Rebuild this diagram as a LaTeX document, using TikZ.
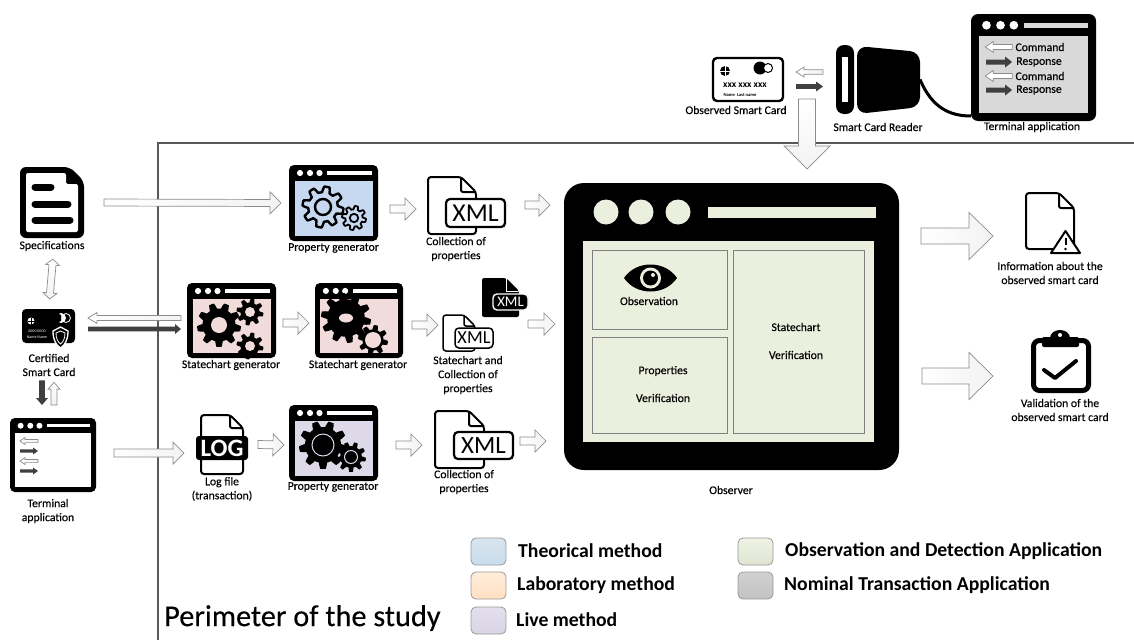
\documentclass[tikz,border=0pt]{standalone}
\usepackage{fontspec}
\setmainfont{Carlito}
\newfontfamily\lblfont[FakeBold=0.25]{Carlito}
\usetikzlibrary{calc}
\definecolor{linegrey}{HTML}{595959}
\definecolor{darkarr}{HTML}{404040}
\definecolor{obsgreen}{HTML}{EBF0DE}
\definecolor{panelline}{HTML}{7F7F7F}
\definecolor{bluefill}{HTML}{C6D9F0}
\definecolor{pinkfill}{HTML}{F2DCDB}
\definecolor{lilacfill}{HTML}{DDD9E8}
\tikzset{
  lbl/.style={font=\lblfont\fontsize{11.7}{14}\selectfont,inner sep=0pt,align=center,text=black},
  legtxt/.style={font=\bfseries\fontsize{19.7}{22}\selectfont,inner sep=0pt,anchor=west},
  iconbox/.style={inner sep=0pt,outer sep=0pt},
  whitearrow/.style={draw=black!45,line width=0.7pt,left color=white,right color=black!5},
  vwhitearrow/.style={draw=black!45,line width=0.7pt,top color=white,bottom color=black!5},
  darkarrow/.style={fill=darkarr,draw=none},
  perimeter/.style={draw=linegrey,line width=2.2pt},
  legbox/.style={draw=black!40,line width=0.8pt,rounded corners=5pt,minimum width=35pt,minimum height=27pt,inner sep=0pt},
  docline/.style={draw=black,line join=round},
}
\newcommand\iconnode[5]{\node[iconbox,minimum width={(#4-#2)*1pt},minimum height={(#5-#3)*1pt}] (#1) at ({(#2+#4)/2},{(#3+#5)/2}) {};}
% block arrow: style, from, to, shaft half width, head half width, head length
\newcommand\barrow[6]{%
  \coordinate (ba) at (#2); \coordinate (bb) at (#3);
  \coordinate (bc) at ($(bb)!#6pt!(ba)$);
  \path[#1] ($(ba)!#4pt!90:(bb)$) -- ($(bc)!#4pt!90:(bb)$) -- ($(bc)!#5pt!90:(bb)$) -- (bb)
    -- ($(bc)!#5pt!-90:(bb)$) -- ($(bc)!#4pt!-90:(bb)$) -- ($(ba)!#4pt!-90:(bb)$) -- cycle;}
% double-headed block arrow
\newcommand\dbarrow[6]{%
  \coordinate (ba) at (#2); \coordinate (bb) at (#3);
  \coordinate (bc) at ($(bb)!#6pt!(ba)$); \coordinate (bd) at ($(ba)!#6pt!(bb)$);
  \path[#1] (ba) -- ($(bd)!#5pt!90:(bb)$) -- ($(bd)!#4pt!90:(bb)$) -- ($(bc)!#4pt!90:(bb)$) -- ($(bc)!#5pt!90:(bb)$) -- (bb)
    -- ($(bc)!#5pt!-90:(bb)$) -- ($(bc)!#4pt!-90:(bb)$) -- ($(bd)!#4pt!-90:(bb)$) -- ($(bd)!#5pt!-90:(bb)$) -- cycle;}
% window icon: name,x1,y1,x2,y2,fill,bar colour
\newcommand\winicon[7]{%
  \pgfmathsetmacro\ws{(#4-#2)/89}
  \fill[black,rounded corners={5*\ws pt}] (#2,#3) rectangle (#4,#5);
  \fill[#6] ({#2+5.5*\ws},{#3+16*\ws}) rectangle ({#4-5.5*\ws},{#5-5.5*\ws});
  \fill[white] ({#2+11*\ws},{#3+8*\ws}) circle ({3.1*\ws});
  \fill[white] ({#2+21*\ws},{#3+8*\ws}) circle ({3.1*\ws});
  \fill[white] ({#2+30.5*\ws},{#3+8*\ws}) circle ({3.1*\ws});
  \fill[#7] ({#2+38*\ws},{#3+6.2*\ws}) rectangle ({#4-6*\ws},{#3+9.8*\ws});
  \iconnode{#1}{#2}{#3}{#4}{#5}}
% gear: x,y,R,teeth,depth fraction,path options
\newcommand\gear[6]{%
  \path[#6,line join=round,shift={(#1,#2)}] plot[domain=0:360,samples={#4*12+1}]
   (\x:{#3*(1-#5/2+#5/2*max(-1,min(1,2.2*sin(#4*\x))))}) -- cycle;}
% document outline: x1,y1,x2,y2,fold,line width,fill
\newcommand\docpath[7]{%
  \draw[docline,line width=#6pt,fill=#7,rounded corners=3pt] (#1,#2) -- ({#3-#5},#2) -- (#3,{#2+#5}) -- (#3,#4) -- (#1,#4) -- cycle;
  \draw[docline,line width=#6pt,rounded corners=2pt] ({#3-#5},#2) -- ({#3-#5},{#2+#5}) -- (#3,{#2+#5});}
% XML tag
\newcommand\xmltag[7]{%
  \pgfmathsetmacro\xf{(#4-#2)*0.92}
  \node[draw=#6,fill=#7,line width=#5pt,rounded corners=4pt,inner sep=0pt,text=#6,
    minimum width={(#3-#1)*1pt},minimum height={(#4-#2)*1pt},
    font=\fontsize{\xf}{20}\selectfont] at ({(#1+#3)/2},{(#2+#4)/2}) {XML};}
\begin{document}
\begin{tikzpicture}[x=1pt,y=-1pt]
\useasboundingbox (0,0) rectangle (1134,640);
\fill[white] (0,0) rectangle (1134,640);

% perimeter
\coordinate (perimTR) at (1134,143);
\coordinate (perimTL) at (158,143);
\coordinate (perimBL) at (158,640);
\draw[perimeter] (perimTR) -- (perimTL) -- (perimBL);
\node[inner sep=0pt,anchor=west,font=\lblfont\fontsize{30.3}{32}\selectfont] (perimtext) at (164,618) {Perimeter of the study};

% ---------- Specifications
\iconnode{spec}{20}{167}{84}{238}
\fill[black,rounded corners=6pt] (20,167) -- (70,167) -- (84,181) -- (84,238) -- (20,238) -- cycle;
\fill[white,rounded corners=2pt] (26,173) -- (66,173) -- (66,184) -- (78,184) -- (78,232) -- (26,232) -- cycle;
\fill[black,rounded corners=1pt] (68,170) -- (82,183) -- (68,183) -- cycle;
\draw[black,line width=7pt,line cap=round] (35,187) -- (51,187) (35,204) -- (68,204) (35,220) -- (70,220);
\node[lbl] (speclbl) at (52,246) {Specifications};

% ---------- Certified smart card
\iconnode{cert}{22}{309}{75}{343}
\fill[black,rounded corners=4pt] (22,309) rectangle (75,343);
\fill[white] (31,321) circle (3.5);
\draw[black,line width=0.6pt] (31,317.5) -- (31,324.5) (27.5,321) -- (34.5,321);
\fill[white] (61,318) circle (5);
\fill[black] (57.5,318) circle (4.5);
\draw[white,line width=0.8pt] (66,318) circle (4.5);
\node[text=white,inner sep=0pt,font=\fontsize{4}{4.5}\selectfont,align=center] (certnum) at (37,334) {0000 0000\\[1pt]Name Name};
\draw[white,line width=1.3pt,fill=black] (60.5,327) -- (68,331) .. controls (68,340) and (65,345) .. (60.5,348) .. controls (56,345) and (53,340) .. (53,331) -- cycle;
\draw[white,line width=0.8pt] (60.5,331) -- (65,333) .. controls (65,339) and (63,342) .. (60.5,344) .. controls (58,342) and (56,339) .. (56,333) -- cycle;
\node[lbl] (certlbl) at (49,365) {Certified\\Smart Card};

% ---------- Left terminal
\winicon{lterm}{10}{418}{96}{492}{white}{white}
\node[lbl] (ltermlbl) at (48,511) {Terminal\\application};
\barrow{whitearrow}{$(lterm.north west)+(28,23)$}{$(lterm.north west)+(10,23)$}{1.6}{3.5}{5}
\barrow{darkarrow}{$(lterm.north west)+(10,33)$}{$(lterm.north west)+(28,33)$}{1.6}{3.5}{5}
\barrow{whitearrow}{$(lterm.north west)+(28,43)$}{$(lterm.north west)+(10,43)$}{1.6}{3.5}{5}
\barrow{darkarrow}{$(lterm.north west)+(10,53)$}{$(lterm.north west)+(28,53)$}{1.6}{3.5}{5}

% ---------- Property generator (theory)
\winicon{propT}{289}{165}{378}{241}{bluefill}{white}
\gear{323}{207}{20.5}{8}{0.28}{draw=black,line width=2.4pt}
\draw[black,line width=2.4pt] (323,207) circle (8);
\gear{354}{218}{12}{8}{0.28}{draw=black,line width=1.8pt}
\draw[black,line width=1.8pt] (354,218) circle (4.2);
\node[lbl] (propTlbl) at (333.5,248) {Property generator};

% ---------- XML theory
\iconnode{xmlT}{428}{177}{505}{234}
\docpath{428}{177}{476}{234}{15}{2}{white}
\xmltag{446}{199}{505}{227}{2.2}{black}{white}
\node[lbl] (xmlTlbl) at (456,249) {Collection of\\properties};

% ---------- Statechart generators
\winicon{stA}{187}{283}{276}{358}{pinkfill}{white}
\gear{219}{325}{22}{9}{0.25}{fill=black}
\fill[pinkfill] (219,325) circle (8);
\gear{250}{312}{13.5}{8}{0.3}{fill=black}
\fill[pinkfill] (250,312) circle (5);
\gear{250}{346}{13.5}{8}{0.3}{fill=black}
\fill[pinkfill] (250,346) circle (5);
\node[lbl] (stAlbl) at (231,365) {Statechart generator};

\winicon{stB}{315}{283}{403}{358}{pinkfill}{white}
\gear{346}{318}{25}{10}{0.25}{fill=black}
\fill[pinkfill] (346,318) ellipse (7 and 4.5);
\gear{373}{340}{15}{8}{0.3}{fill=black}
\fill[pinkfill] (373,340) circle (8);
\node[lbl] (stBlbl) at (358,365) {Statechart generator};

% ---------- XML pair
\iconnode{xmlBlack}{482}{278}{528}{317}
\fill[black,rounded corners=2pt] (482,278) -- (506,278) -- (519,291) -- (519,317) -- (482,317) -- cycle;
\draw[white,line width=1pt] (506,279) -- (506,291) -- (518,291);
\xmltag{493}{294}{528}{310}{1.4}{white}{black}
\iconnode{xmlWhite}{443}{315}{493}{351}
\docpath{443}{315}{475}{351}{11}{1.5}{white}
\xmltag{455}{328}{493}{348}{1.5}{black}{white}
\node[lbl] (xmlPairlbl) at (468,375) {Statechart and\\Collection of\\properties};

% ---------- Log
\iconnode{logf}{196}{415}{248}{474}
\docpath{201}{415}{243}{474}{13}{2}{white}
\fill[black,rounded corners=3pt] (196,436) rectangle (248,460);
\node[text=white,inner sep=0pt,font=\bfseries\fontsize{25}{25}\selectfont] (logtxt) at (222,448) {LOG};
\node[lbl] (loglbl) at (222,489) {Log file\\(transaction)};

% ---------- Property generator (live)
\winicon{propL}{289}{405}{378}{481}{lilacfill}{white}
\gear{323}{445}{24}{9}{0.25}{fill=black}
\draw[lilacfill,line width=1pt,fill=black] (323,445) circle (11);
\gear{351}{457}{15}{9}{0.28}{fill=black}
\draw[lilacfill,line width=1pt,fill=black] (351,457) circle (6.5);
\node[lbl] (propLlbl) at (333,487) {Property generator};

% ---------- XML live
\iconnode{xmlL}{435}{411}{513}{468}
\docpath{435}{411}{484}{468}{15}{2}{white}
\xmltag{454}{432}{513}{459}{2.2}{black}{white}
\node[lbl] (xmlLlbl) at (464,482) {Collection of\\properties};

% ---------- Observer
\iconnode{obs}{564}{183}{899}{470}
\fill[black,rounded corners=20pt] (564,183) rectangle (899,470);
\fill[obsgreen] (583,241) rectangle (874,442);
\fill[obsgreen] (606,212) circle (12.5);
\fill[obsgreen] (641,212) circle (12.5);
\fill[obsgreen] (678,212) circle (12.5);
\fill[obsgreen] (708,207) rectangle (876,218);
\draw[panelline,line width=0.8pt] (592,250) rectangle (727,329);
\draw[panelline,line width=0.8pt] (592,337) rectangle (727,433);
\draw[panelline,line width=0.8pt] (733,250) rectangle (864,433);
\fill[black] (624,278) .. controls (636,260) and (665,260) .. (677,278) .. controls (665,296) and (636,296) .. (624,278) -- cycle;
\fill[obsgreen] (650.5,278) circle (10.5);
\fill[black] (650.5,278) circle (7.5);
\fill[obsgreen] (653,275) circle (2);
\node[lbl] (obs1) at (649,301) {Observation};
\node[lbl] (obs2a) at (663,371) {Properties};
\node[lbl] (obs2b) at (663,398) {Verification};
\node[lbl] (obs3a) at (796,327) {Statechart};
\node[lbl] (obs3b) at (796,355) {Verification};
\node[lbl] (obslbl) at (731,490) {Observer};

% ---------- Results
\iconnode{info}{1026}{193}{1081}{253}
\docpath{1026}{193}{1074}{249}{15}{2}{white}
\draw[black,line width=2pt,fill=white,line join=round] (1065.5,231) -- (1051,253) -- (1080,253) -- cycle;
\draw[black,line width=2pt] (1065.5,237.5) -- (1065.5,245);
\fill[black] (1065.5,249) circle (1.3);
\node[lbl] (infolbl) at (1050,273) {Information about the\\observed smart card};

\iconnode{clip}{1031}{330}{1091}{393}
\draw[black,line width=5pt,rounded corners=6pt,fill=white] (1033.5,340.5) rectangle (1088.5,390.5);
\fill[black] (1060,338) ellipse (10 and 8);
\fill[black,rounded corners=2pt] (1042,337) rectangle (1079,347);
\fill[white] (1060,335) circle (2);
\draw[black,line width=4pt,line cap=round,line join=round] (1044,370) -- (1055,378) -- (1076,361);
\node[lbl] (cliplbl) at (1060,410) {Validation of the\\observed smart card};

% ---------- Top: observed card
\iconnode{ocard}{712}{57}{784}{102}
\draw[black,line width=2.4pt,rounded corners=4pt,fill=white] (713,58) rectangle (783,101);
\fill[black] (725,71) circle (5);
\draw[white,line width=0.6pt] (725,66) -- (725,76) (720,71) -- (730,71);
\fill[black] (760,68) circle (6.5);
\draw[black,line width=1pt,fill=white] (768,68) circle (4.5);
\node[inner sep=0pt,font=\bfseries\fontsize{9.5}{10}\selectfont] (ocardnum) at (745,85) {xxx xxx xxx};
\node[inner sep=0pt,font=\bfseries\fontsize{4.6}{5}\selectfont] (ocardname) at (740,95) {Name\ \ Last name};
\node[lbl] (ocardlbl) at (736,110) {Observed Smart Card};

% ---------- Top: reader
\iconnode{reader}{836}{45}{920}{114}
\fill[black,rounded corners=8pt] (836,45) rectangle (854,114);
\fill[white] (842,57) rectangle (848,102);
\fill[black,rounded corners=10pt] (857,46) -- (920,52) -- (920,107) -- (857,114) -- cycle;
\node[lbl] (readerlbl) at (878,127) {Smart Card Reader};

% ---------- Top: terminal
\winicon{tterm}{971}{14}{1096}{121}{black!15}{black!15}
\node[lbl] (ttermlbl) at (1032,127) {Terminal application};
\draw[black,line width=3pt] (reader.east) .. controls (932,108) and (950,116) .. (tterm.west |- 0,116);
\node[lbl] (cmd1) at (1040,47) {Command};
\node[lbl] (rsp1) at (1039,62) {Response};
\node[lbl] (cmd2) at (1040,76) {Command};
\node[lbl] (rsp2) at (1039,90) {Response};
\barrow{whitearrow,left color=white,right color=white}{$(cmd1.west)+(-3,0)$}{$(cmd1.west)+(-30,0)$}{2.5}{5.5}{8}
\barrow{darkarrow}{$(rsp1.west)+(-30,0)$}{$(rsp1.west)+(-4,0)$}{2.5}{5.5}{7}
\barrow{whitearrow,left color=white,right color=white}{$(cmd2.west)+(-3,0)$}{$(cmd2.west)+(-30,0)$}{2.5}{5.5}{8}
\barrow{darkarrow}{$(rsp2.west)+(-30,0)$}{$(rsp2.west)+(-4,0)$}{2.5}{5.5}{7}

% ---------- Legend
\definecolor{lgA}{HTML}{D7E5F0}\definecolor{lgAb}{HTML}{CADCEA}
\definecolor{lgC}{HTML}{E3DFEC}\definecolor{lgCb}{HTML}{DAD5E6}
\node[legbox,top color=lgA,bottom color=lgAb] (legA) at (488.5,551.5) {};
\node[legbox,top color=orange!14!white,bottom color=orange!24!white] (legB) at (488.5,585.5) {};
\node[legbox,top color=lgC,bottom color=lgCb] (legC) at (488.5,620.5) {};
\node[legbox,top color=obsgreen!80!white,bottom color=obsgreen!95!black] (legD) at (755.5,551.5) {};
\node[legbox,top color=black!18,bottom color=black!24] (legE) at (755.5,585.5) {};
\node[legtxt] (legAt) at (518,551) {Theorical method};
\node[legtxt] (legBt) at (517,585) {Laboratory method};
\node[legtxt] (legCt) at (516,620) {Live method};
\node[legtxt] (legDt) at (785,551) {Observation and Detection Application};
\node[legtxt] (legEt) at (784,585) {Nominal Transaction Application};

% ---------- Block arrows
\barrow{whitearrow}{$(spec.east)+(20,0)$}{$(propT.west)+(-8,0)$}{3.5}{11}{11}
\barrow{whitearrow}{$(propT.east)+(12,6)$}{$(xmlT.west)+(-12,3.5)$}{4}{11}{11}
\barrow{whitearrow}{$(xmlT.east)+(20,-0.5)$}{$(obs.west)+(-14,-121.5)$}{4}{11}{11}
\barrow{whitearrow}{$(stA.east)+(7,2.5)$}{$(stB.west)+(-6,2.5)$}{4}{11}{11}
\barrow{whitearrow}{$(stB.east)+(9,4.5)$}{$(xmlWhite.west)+(-5,-8)$}{4}{11}{11}
\barrow{whitearrow}{$(xmlWhite.east)+(35,-9)$}{$(obs.west)+(-9,-2.5)$}{4}{11}{11}
\barrow{whitearrow}{$(lterm.east)+(18,-2)$}{$(logf.west)+(-12,8.5)$}{4}{11}{11}
\barrow{whitearrow}{$(logf.east)+(10,0)$}{$(propL.west)+(-5,2)$}{4}{11}{11}
\barrow{whitearrow}{$(propL.east)+(18,2)$}{$(xmlL.west)+(-13,5.5)$}{4}{11}{11}
\barrow{whitearrow}{$(xmlL.east)+(7,1.5)$}{$(obs.west)+(-18,114.5)$}{4}{11}{11}
\barrow{whitearrow}{$(obs.east)+(22,-90.5)$}{$(info.west)+(-33,13)$}{8}{23.5}{24}
\barrow{whitearrow}{$(obs.east)+(23,49.5)$}{$(clip.west)+(-38,14.5)$}{8}{23.5}{24}
% certified card connections
\barrow{whitearrow}{$(stA.west)+(-6,-2.5)$}{$(cert.east)+(13,-8)$}{2.5}{5.5}{9}
\barrow{darkarrow}{$(cert.east)+(13,3)$}{$(stA.west)+(-6,8.5)$}{2.3}{5}{6}
\dbarrow{vwhitearrow}{$(spec.south)+(1,21)$}{$(cert.north)+(1,-10)$}{3.5}{7}{6}
\barrow{darkarrow}{$(certlbl.south)+(-7,4)$}{$(lterm.north)+(-11,-13)$}{2.8}{6}{7}
\barrow{vwhitearrow}{$(lterm.north)+(1,-13)$}{$(certlbl.south)+(5,6)$}{3}{6}{7}
% card - reader
\barrow{whitearrow}{$(reader.west)+(-13,-7.5)$}{$(ocard.east)+(12,-7.5)$}{2.3}{5}{8}
\barrow{darkarrow}{$(ocard.east)+(12,7)$}{$(reader.west)+(-13,7)$}{2.3}{5}{7}
\barrow{vwhitearrow}{$(ocard.south)+(59,-3)$}{$(obs.north)+(75.5,-14)$}{8.5}{23}{23}
\end{tikzpicture}
\end{document}
